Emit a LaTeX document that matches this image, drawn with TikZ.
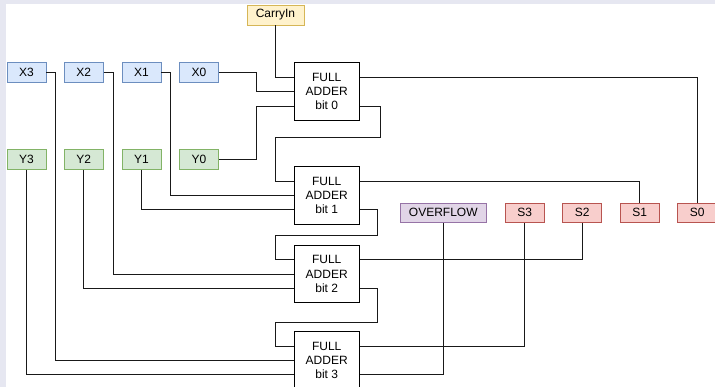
\documentclass[tikz,border=0pt]{standalone}
\usepackage{fontspec}
\setmainfont{Liberation Sans}
\definecolor{xfill}{HTML}{DAE8FC}
\definecolor{xline}{HTML}{6C8EBF}
\definecolor{yfill}{HTML}{D5E8D4}
\definecolor{yline}{HTML}{82B366}
\definecolor{sfill}{HTML}{F8CECC}
\definecolor{sline}{HTML}{B85450}
\definecolor{ofill}{HTML}{E1D5E7}
\definecolor{oline}{HTML}{9673A6}
\definecolor{cfill}{HTML}{FFF2CC}
\definecolor{cline}{HTML}{D6B656}
\definecolor{frame}{RGB}{230,231,241}
\definecolor{wire}{RGB}{25,25,25}

\begin{document}
\begin{tikzpicture}[x=1pt, y=-1pt, line width=0.9pt,
  iobox/.style={draw, minimum width=39pt, minimum height=19.5pt, inner sep=0pt,
    line width=0.8pt, font=\fontsize{12}{14}\selectfont},
  inx/.style={iobox, fill=xfill, draw=xline},
  iny/.style={iobox, fill=yfill, draw=yline},
  outs/.style={iobox, fill=sfill, draw=sline},
  adder/.style={draw=black, fill=white, minimum width=65pt, minimum height=57.5pt,
    inner sep=0pt, align=center, font=\fontsize{12}{14.2}\selectfont},
  wires/.style={draw=wire}]
\useasboundingbox (0,0) rectangle (715,387);
\fill[frame] (0,0) rectangle (715,387);
\fill[white] (6,4) rectangle (715,387);

% inputs
\node[iobox, fill=cfill, draw=cline, minimum width=57pt, minimum height=20pt] (carry) at (275.5,15) {CarryIn};
\node[inx] (x3) at (26.5,72.5) {X3};
\node[inx] (x2) at (83.8,72.5) {X2};
\node[inx] (x1) at (141.5,72.5) {X1};
\node[inx] (x0) at (199,72.5) {X0};
\node[iny] (y3) at (26.5,159.5) {Y3};
\node[iny] (y2) at (83.8,159.5) {Y2};
\node[iny] (y1) at (141.5,159.5) {Y1};
\node[iny] (y0) at (199,159.5) {Y0};

% adders
\node[adder] (fa0) at (326.7,91.7) {FULL\\ADDER\\bit 0};
\node[adder] (fa1) at (326.7,195.3) {FULL\\ADDER\\bit 1};
\node[adder] (fa2) at (326.7,274) {FULL\\ADDER\\bit 2};
\node[adder] (fa3) at (326.7,360.3) {FULL\\ADDER\\bit 3};

% outputs
\node[iobox, fill=ofill, draw=oline, minimum width=86.5pt] (ovf) at (443.3,212.7) {OVERFLOW};
\node[outs] (s3) at (524.8,212.7) {S3};
\node[outs] (s2) at (582.3,212.7) {S2};
\node[outs] (s1) at (639.8,212.7) {S1};
\node[outs] (s0) at (697.2,212.7) {S0};

% bit 0
\draw[wires] (carry.south) |- ([yshift=14.3pt]fa0.west);
\draw[wires] (x0.east) -- ++(37.5,0) |- (fa0.west);
\draw[wires] (y0.east) -- ++(37.5,0) |- ([yshift=-14.3pt]fa0.west);
\draw[wires] ([yshift=14.3pt]fa0.east) -| (s0.north);
\draw[wires] ([yshift=-14.3pt]fa0.east) -| (380.5,137.3) -- (275.7,137.3) |- ([yshift=14.3pt]fa1.west);

% bit 1
\draw[wires] (x1.east) -- ++(9.5,0) |- (fa1.west);
\draw[wires] (y1.south) |- ([yshift=-14.3pt]fa1.west);
\draw[wires] ([yshift=14.3pt]fa1.east) -| (s1.north);
\draw[wires] ([yshift=-14.3pt]fa1.east) -| (377,235) -- (275.7,235) |- ([yshift=14.3pt]fa2.west);

% bit 2
\draw[wires] (x2.east) -- ++(9.5,0) |- (fa2.west);
\draw[wires] (y2.south) |- ([yshift=-14.3pt]fa2.west);
\draw[wires] ([yshift=14.3pt]fa2.east) -| (s2.south);
\draw[wires] ([yshift=-14.3pt]fa2.east) -| (377,322) -- (275.7,322) |- ([yshift=14.3pt]fa3.west);

% bit 3
\draw[wires] (x3.east) -- ++(9.5,0) |- (fa3.west);
\draw[wires] (y3.south) |- ([yshift=-14.3pt]fa3.west);
\draw[wires] ([yshift=14.3pt]fa3.east) -| (s3.south);
\draw[wires] ([yshift=-14.3pt]fa3.east) -| (ovf.south);
\end{tikzpicture}
\end{document}
